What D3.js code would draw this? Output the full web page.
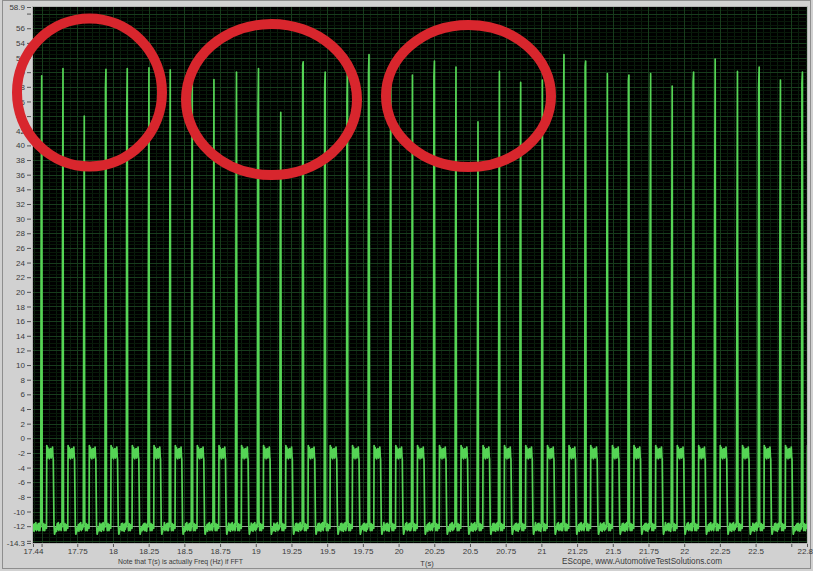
<!DOCTYPE html>
<html>
<head>
<meta charset="utf-8">
<script src="https://cdn.jsdelivr.net/npm/d3@7/dist/d3.min.js"></script>
<style>
  html, body { margin: 0; padding: 0; background: #d1d1d1; overflow: hidden; }
  svg { display: block; }
  .tick text { font-family: "Liberation Sans", Arial, sans-serif; font-size: 8px; fill: #3a3a3a; }
  .tick line { stroke: #555; }
</style>
</head>
<body>
<svg id="scope" width="813" height="571"></svg>
<script>
// ---- captured trace: one event per cycle ----
const spikeTimes = [17.501, 17.650, 17.799, 17.951, 18.100, 18.252, 18.401, 18.555, 18.707, 18.865,
                    19.019, 19.175, 19.332, 19.486, 19.642, 19.793, 19.945, 20.097, 20.251, 20.402,
                    20.556, 20.706, 20.855, 21.007, 21.158, 21.310, 21.462, 21.613, 21.765, 21.916,
                    22.066, 22.217, 22.373, 22.525, 22.674, 22.828];
const spikePeaks = [49.5, 50.5, 44.0, 50.4, 50.5, 50.6, 50.3, 49.5, 49.0, 50.0,
                    50.5, 44.5, 51.4, 50.0, 51.3, 52.4, 49.8, 49.6, 51.5, 50.7,
                    43.2, 50.1, 48.6, 48.9, 52.4, 51.5, 49.8, 49.6, 49.8, 48.1,
                    50.0, 51.8, 50.1, 50.7, 48.9, 50.0];
// level of the last sample on the rising edge before the peak
const spikeKnees = [33, 26, 20, 47.9, 44.5, 28, 24, 30, 18, 28,
                    44.5, 28, 51, 48, 46, 50, 25, 22, 49.4, 28,
                    12, 30, 28, 26, 43, 50.8, 28, 48.9, 28, 24,
                    48.7, 30, 26, 48.1, 28, 48.5];
// samples after each spike: [seconds after spike, volts]
const afterSpike = [[0.0035, -11.2], [0.009, -12.6], [0.015, -11.7], [0.021, -12.6],
                    [0.027, -11.8], [0.0335, -12.3], [0.0355, -1.0]];
const plateauRipple = [-1.1, -2.7, -1.3, -2.4, -1.6, -2.8, -1.5, -2.5, -1.4, -2.7, -1.6, -2.3, -1.2, -2.6];
const plateauSpan = [0.037, 0.079];
const fallHook = [[0.081, -2.8], [0.086, -11.8], [0.090, -13.1], [0.095, -12.7], [0.100, -12.2]];
const lowRipple = [-11.6, -12.6, -11.8, -12.7, -11.7, -12.4, -11.5, -12.6, -11.9, -12.4, -11.7, -12.6];
const referenceLevel = -12;

// ---- axes ----
const timeDomain = [17.44, 22.86];
const voltDomain = [-14.3, 58.9];
const xTicks = [17.44, 17.5, 17.75, 18, 18.25, 18.5, 18.75, 19, 19.25, 19.5, 19.75, 20, 20.25,
                20.5, 20.75, 21, 21.25, 21.5, 21.75, 22, 22.25, 22.5, 22.75, 22.86];
const xUnlabelled = [17.5, 22.75];
const yTicks = [-14.3, -14, -12, -10, -8, -6, -4, -2, 0, 2, 4, 6, 8, 10, 12, 14, 16, 18, 20, 22, 24,
                26, 28, 30, 32, 34, 36, 38, 40, 42, 44, 46, 48, 50, 52, 54, 56, 58, 58.9];
const yUnlabelled = [-14, 58];
const xMinorStep = 0.05;
const yMinorStep = 0.5;

const svg = d3.select("#scope");
const plot = { left: 33, right: 807, top: 7, bottom: 543 };

const x = d3.scaleLinear().domain(timeDomain).range([plot.left, plot.right]);
const y = d3.scaleLinear().domain(voltDomain).range([plot.bottom, plot.top]);

// window frame
svg.append("rect").attr("x", 0).attr("y", 0).attr("width", 813).attr("height", 571).attr("fill", "#d1d1d1");
svg.append("rect").attr("x", 2.5).attr("y", 0.5).attr("width", 808).attr("height", 568)
  .attr("fill", "none").attr("stroke", "#8e8e8e");

// plot background
svg.append("rect").attr("x", plot.left).attr("y", plot.top)
  .attr("width", plot.right - plot.left).attr("height", plot.bottom - plot.top).attr("fill", "#000");

svg.append("defs").call(defs => {
  defs.append("clipPath").attr("id", "plotClip").append("rect")
    .attr("x", plot.left).attr("y", plot.top)
    .attr("width", plot.right - plot.left).attr("height", plot.bottom - plot.top);
  defs.append("filter").attr("id", "soft").attr("x", "-5%").attr("y", "-5%").attr("width", "110%").attr("height", "110%")
    .append("feGaussianBlur").attr("stdDeviation", 0.35);
});

const grid = svg.append("g").attr("clip-path", "url(#plotClip)");

// minor grid
const xMinor = d3.range(Math.ceil(timeDomain[0] / xMinorStep) * xMinorStep, timeDomain[1], xMinorStep);
const yMinor = d3.range(Math.ceil(voltDomain[0] / yMinorStep) * yMinorStep, voltDomain[1], yMinorStep);
grid.selectAll(".vmin").data(xMinor).join("line")
  .attr("x1", d => Math.round(x(d)) + 0.5).attr("x2", d => Math.round(x(d)) + 0.5)
  .attr("y1", plot.top).attr("y2", plot.bottom).attr("stroke", "#0a1d0d").attr("stroke-width", 1);
grid.selectAll(".hmin").data(yMinor).join("line")
  .attr("y1", d => Math.round(y(d)) + 0.5).attr("y2", d => Math.round(y(d)) + 0.5)
  .attr("x1", plot.left).attr("x2", plot.right).attr("stroke", "#081909").attr("stroke-width", 1);

// major grid
const xMajor = xTicks.filter(d => d !== timeDomain[0] && d !== timeDomain[1]);
const yMajor = yTicks.filter(d => d !== voltDomain[0] && d !== voltDomain[1]);
grid.selectAll(".vmaj").data(xMajor).join("line")
  .attr("x1", d => Math.round(x(d)) + 0.5).attr("x2", d => Math.round(x(d)) + 0.5)
  .attr("y1", plot.top).attr("y2", plot.bottom).attr("stroke", "#173c1c").attr("stroke-width", 1);
grid.selectAll(".hmaj").data(yMajor).join("line")
  .attr("y1", d => Math.round(y(d)) + 0.5).attr("y2", d => Math.round(y(d)) + 0.5)
  .attr("x1", plot.left).attr("x2", plot.right).attr("stroke", "#173c1c").attr("stroke-width", 1);

// reference level line
grid.append("line")
  .attr("x1", plot.left).attr("x2", plot.right)
  .attr("y1", Math.round(y(referenceLevel)) + 0.5).attr("y2", Math.round(y(referenceLevel)) + 0.5)
  .attr("stroke", "#a9b8a9").attr("stroke-width", 1).attr("opacity", 0.85);

// ---- build the trace samples ----
const samples = [];
let lowIdx = 0;
function addLow(t0, t1) {
  for (let t = t0; t < t1; t += 0.004) {
    samples.push([t, lowRipple[lowIdx % lowRipple.length]]);
    lowIdx++;
  }
}
addLow(timeDomain[0] - 0.004, spikeTimes[0] - 0.008);
spikeTimes.forEach((ts, i) => {
  samples.push([ts - 0.007, -12.1], [ts - 0.0035, spikeKnees[i]], [ts, spikePeaks[i]]);
  afterSpike.forEach(([dt, v]) => samples.push([ts + dt, v]));
  const n = plateauRipple.length;
  plateauRipple.forEach((v, k) => {
    samples.push([ts + plateauSpan[0] + k * (plateauSpan[1] - plateauSpan[0]) / (n - 1), v]);
  });
  fallHook.forEach(([dt, v]) => samples.push([ts + dt, v]));
  const next = i + 1 < spikeTimes.length ? spikeTimes[i + 1] : timeDomain[1] + 0.1;
  addLow(ts + 0.104, next - 0.008);
});

const line = d3.line().x(d => x(d[0])).y(d => y(d[1]));
svg.append("g").attr("clip-path", "url(#plotClip)")
  .append("path")
  .datum(samples)
  .attr("d", line)
  .attr("fill", "none")
  .attr("stroke", "#55d455")
  .attr("stroke-width", 1.7)
  .attr("stroke-linejoin", "round")
  .attr("filter", "url(#soft)");

// plot border
svg.append("rect").attr("x", plot.left - 0.5).attr("y", plot.top - 0.5)
  .attr("width", plot.right - plot.left + 1).attr("height", plot.bottom - plot.top + 1)
  .attr("fill", "none").attr("stroke", "#b4b4b4");

// ---- axes ----
const yAxis = d3.axisLeft(y).tickValues(yTicks).tickSize(4).tickPadding(2)
  .tickFormat(d => yUnlabelled.includes(d) ? "" : String(d));
svg.append("g").attr("transform", `translate(${plot.left - 2},0)`).call(yAxis)
  .call(g => g.select(".domain").remove());

const xAxis = d3.axisBottom(x).tickValues(xTicks).tickSize(3).tickPadding(1)
  .tickFormat(d => xUnlabelled.includes(d) ? "" : String(d));
svg.append("g").attr("transform", `translate(0,${plot.bottom + 1})`).call(xAxis)
  .call(g => g.select(".domain").remove());

// footer texts
const footer = svg.append("g").attr("font-family", "Liberation Sans, Arial, sans-serif").attr("fill", "#3a3a3a");
footer.append("text").attr("x", 118).attr("y", 564).attr("font-size", 7)
  .attr("textLength", 125).attr("lengthAdjust", "spacingAndGlyphs")
  .text("Note that T(s) is actually Freq (Hz) if FFT");
footer.append("text").attr("x", 427).attr("y", 566).attr("font-size", 7.5).attr("text-anchor", "middle")
  .text("T(s)");
footer.append("text").attr("x", 562).attr("y", 564).attr("font-size", 8.5)
  .attr("textLength", 160).attr("lengthAdjust", "spacingAndGlyphs")
  .text("EScope, www.AutomotiveTestSolutions.com");

// ---- highlight rings ----
const rings = [
  { cx: 89.5, cy: 92.5, rx: 72.5, ry: 74 },
  { cx: 271.5, cy: 99.5, rx: 85.5, ry: 75.5 },
  { cx: 468.5, cy: 96, rx: 82.5, ry: 71 }
];
svg.append("g").selectAll("ellipse").data(rings).join("ellipse")
  .attr("cx", d => d.cx).attr("cy", d => d.cy).attr("rx", d => d.rx).attr("ry", d => d.ry)
  .attr("fill", "none").attr("stroke", "#d8262d").attr("stroke-width", 10);
</script>
</body>
</html>
